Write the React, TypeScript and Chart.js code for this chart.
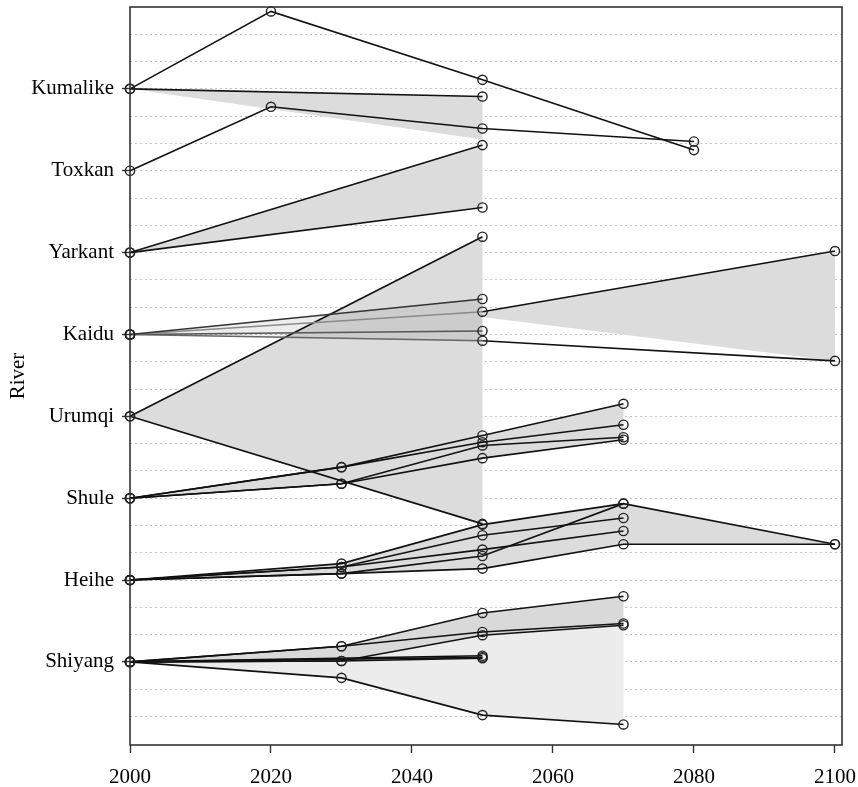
import React, { useEffect, useRef } from 'react';
import { Chart, registerables } from 'chart.js';

Chart.register(...registerables);

// Rivers, bottom (position 1) to top (position 8)
const rivers = ['Shiyang', 'Heihe', 'Shule', 'Urumqi', 'Kaidu', 'Yarkant', 'Toxkan', 'Kumalike'];
const xTickYears = [2000, 2020, 2040, 2060, 2080, 2100];

// Projected change lines, offsets from each river's baseline (in row units)
const kumalikeLines = [
  { years: [2000, 2020, 2050, 2080], change: [0, 0.946, 0.11, -0.748] },
  { years: [2000, 2050], change: [0, -0.094] },
];
const toxkanLines = [
  { years: [2000, 2020, 2050, 2080], change: [0, 0.781, 0.516, 0.357] },
];
const yarkantLines = [
  { years: [2000, 2050], change: [0, 1.313] },
  { years: [2000, 2050], change: [0, 0.551] },
];
const kaiduLines = [
  { years: [2000, 2050], change: [0, 0.433], left: '#333' },
  { years: [2000, 2050, 2100], change: [0, 0.278, 1.019], left: '#8a8a8a' },
  { years: [2000, 2050], change: [0, 0.043], left: '#555' },
  { years: [2000, 2050, 2100], change: [0, -0.076, -0.323], left: '#666' },
];
const urumqiLines = [
  { years: [2000, 2050], change: [0, 2.194] },
  { years: [2000, 2050], change: [0, -1.314] },
];
const shuleLines = [
  { years: [2000, 2030, 2050, 2070], change: [0, 0.379, 0.766, 1.153] },
  { years: [2000, 2030, 2050, 2070], change: [0, 0.379, 0.684, 0.897] },
  { years: [2000, 2030, 2050, 2070], change: [0, 0.177, 0.644, 0.745] },
  { years: [2000, 2030, 2050, 2070], change: [0, 0.177, 0.489, 0.714] },
];
const heiheLines = [
  { years: [2000, 2030, 2050, 2070], change: [0, 0.201, 0.677, 0.933] },
  { years: [2000, 2030, 2050, 2070], change: [0, 0.16, 0.547, 0.758] },
  { years: [2000, 2030, 2050, 2070], change: [0, 0.16, 0.372, 0.599] },
  { years: [2000, 2030, 2050, 2070, 2100], change: [0, 0.079, 0.294, 0.933, 0.437] },
  { years: [2000, 2030, 2050, 2070, 2100], change: [0, 0.079, 0.14, 0.437, 0.437] },
];
const shiyangLines = [
  { years: [2000, 2030, 2050, 2070], change: [0, 0.192, 0.598, 0.802] },
  { years: [2000, 2030, 2050, 2070], change: [0, 0.192, 0.366, 0.469] },
  { years: [2000, 2030, 2050, 2070], change: [0, 0.012, 0.326, 0.448] },
  { years: [2000, 2050], change: [0, 0.075] },
  { years: [2000, 2050], change: [0, 0.055] },
  { years: [2000, 2030, 2050], change: [0, 0.012, 0.045] },
  { years: [2000, 2030, 2050, 2070], change: [0, -0.195, -0.65, -0.764] },
];

// Shaded ranges: upper and lower envelopes
const kumalikeBand = { years: [2000, 2050], upper: [0, -0.094], lower: [0, -0.62] };
const yarkantBand = { years: [2000, 2050], upper: [0, 1.313], lower: [0, 0.551] };
const kaiduBandLeft = { years: [2000, 2050], upper: [0, 0.433], lower: [0, -0.076] };
const kaiduBandRight = { years: [2050, 2100], upper: [0.278, 1.019], lower: [0.214, -0.323] };
const urumqiBand = { years: [2000, 2050], upper: [0, 2.194], lower: [0, -1.314] };
const shuleBand = { years: [2000, 2030, 2050, 2070], upper: [0, 0.379, 0.766, 1.153], lower: [0, 0.177, 0.489, 0.714] };
const heiheBand = { years: [2000, 2030, 2050, 2070, 2100], upper: [0, 0.201, 0.677, 0.933, 0.437], lower: [0, 0.079, 0.14, 0.437, 0.437] };
const shiyangBandUpper = { years: [2000, 2030, 2050, 2070], upper: [0, 0.192, 0.598, 0.802], lower: [0, 0.012, 0.326, 0.448] };
const shiyangBandLower = { years: [2000, 2030, 2050, 2070], upper: [0, 0.012, 0.326, 0.448], lower: [0, -0.195, -0.65, -0.764] };

const FONT = "'Liberation Serif', 'Times New Roman', 'DejaVu Serif', serif";

function pos(river: string) {
  return rivers.indexOf(river) + 1;
}

function lineDatasets(river: string, lines: any[]) {
  const base = pos(river);
  return lines.map((l) => ({
    type: 'line',
    data: l.years.map((yr: number, i: number) => ({ x: yr, y: base + l.change[i] })),
    borderColor: '#111',
    borderWidth: 1.6,
    pointRadius: 4.6,
    pointBorderWidth: 1.4,
    pointBorderColor: '#222',
    pointBackgroundColor: 'rgba(0,0,0,0)',
    fill: false,
    tension: 0,
    clip: false,
    order: 0,
    segment: l.left
      ? { borderColor: (ctx: any) => (ctx.p0.parsed.x < 2050 ? l.left : '#111') }
      : undefined,
  }));
}

function bandDataset(river: string, band: any, color: string, order: number) {
  const base = pos(river);
  const up = band.years.map((yr: number, i: number) => ({ x: yr, y: base + band.upper[i] }));
  const lo = band.years
    .map((yr: number, i: number) => ({ x: yr, y: base + band.lower[i] }))
    .reverse();
  return {
    type: 'line',
    data: [...up, ...lo],
    borderWidth: 0,
    borderColor: 'rgba(0,0,0,0)',
    backgroundColor: color,
    pointRadius: 0,
    fill: 'shape',
    tension: 0,
    order,
  };
}

const framePlugin = {
  id: 'frame',
  afterDraw(chart: any) {
    const { ctx, chartArea } = chart;
    ctx.save();
    ctx.strokeStyle = '#333';
    ctx.lineWidth = 1.6;
    ctx.strokeRect(chartArea.left, chartArea.top, chartArea.right - chartArea.left, chartArea.bottom - chartArea.top);
    ctx.restore();
  },
};

export default function App() {
  const ref = useRef<HTMLCanvasElement | null>(null);

  useEffect(() => {
    if (!ref.current) return;
    const grey = '#dcdcdc';
    const datasets: any[] = [
      bandDataset('Urumqi', urumqiBand, grey, 20),
      bandDataset('Kumalike', kumalikeBand, grey, 15),
      bandDataset('Yarkant', yarkantBand, grey, 15),
      bandDataset('Kaidu', kaiduBandLeft, 'rgba(0,0,0,0.07)', 12),
      bandDataset('Kaidu', kaiduBandRight, grey, 15),
      bandDataset('Shule', shuleBand, grey, 15),
      bandDataset('Heihe', heiheBand, grey, 15),
      bandDataset('Shiyang', shiyangBandLower, '#ececec', 15),
      bandDataset('Shiyang', shiyangBandUpper, '#d9d9d9', 14),
      ...lineDatasets('Kumalike', kumalikeLines),
      ...lineDatasets('Toxkan', toxkanLines),
      ...lineDatasets('Yarkant', yarkantLines),
      ...lineDatasets('Kaidu', kaiduLines),
      ...lineDatasets('Urumqi', urumqiLines),
      ...lineDatasets('Shule', shuleLines),
      ...lineDatasets('Heihe', heiheLines),
      ...lineDatasets('Shiyang', shiyangLines),
    ];

    const isInt = (v: number) => Math.abs(v - Math.round(v)) < 1e-6;

    const chart = new Chart(ref.current, {
      type: 'line',
      data: { datasets },
      plugins: [framePlugin],
      options: {
        responsive: false,
        animation: false,
        layout: { padding: { left: 0, right: 16, top: 7, bottom: 0 } },
        plugins: {
          legend: { display: false },
          tooltip: { enabled: false },
          filler: { drawTime: 'beforeDatasetsDraw' },
        },
        scales: {
          x: {
            type: 'linear',
            min: 2000,
            max: 2101,
            afterBuildTicks: (s: any) => {
              s.ticks = xTickYears.map((v) => ({ value: v }));
            },
            afterFit: (s: any) => {
              s.height = 42;
              s.paddingLeft = 0;
              s.paddingRight = 0;
            },
            ticks: {
              color: '#000',
              font: { family: FONT, size: 21 },
              padding: 12,
              maxRotation: 0,
              autoSkip: false,
              callback: (v: any) => String(v),
            },
            grid: {
              drawOnChartArea: false,
              drawTicks: true,
              tickLength: 8,
              tickColor: '#333',
              tickWidth: 1.4,
            },
            border: { display: false },
          },
          y: {
            type: 'linear',
            min: -0.015,
            max: 9,
            afterBuildTicks: (s: any) => {
              const t: any[] = [];
              for (let k = 1; k <= 26; k++) t.push({ value: k / 3 });
              s.ticks = t;
            },
            afterFit: (s: any) => {
              s.width = 130;
              s.paddingTop = 0;
              s.paddingBottom = 0;
            },
            title: {
              display: true,
              text: 'River',
              color: '#000',
              font: { family: FONT, size: 21 },
              padding: { top: 6, bottom: 0 },
            },
            ticks: {
              color: '#000',
              font: { family: FONT, size: 21 },
              padding: 8,
              autoSkip: false,
              callback: (v: any) => {
                const n = Number(v);
                if (!isInt(n)) return '';
                const r = Math.round(n);
                return r >= 1 && r <= 8 ? rivers[r - 1] : '';
              },
            },
            grid: {
              color: '#c4c4c4',
              lineWidth: 1,
              drawTicks: true,
              tickLength: 8,
              tickWidth: 1.4,
              tickColor: (ctx: any) => (ctx.tick && isInt(ctx.tick.value) ? '#333' : 'rgba(0,0,0,0)'),
            },
            border: { display: false, dash: [2, 3] },
          },
        },
      } as any,
    });
    return () => chart.destroy();
  }, []);

  return (
    <div style={{ position: 'fixed', left: 0, top: 0, width: 858, height: 787, background: '#fff' }}>
      <canvas ref={ref} width={858} height={787} />
    </div>
  );
}
